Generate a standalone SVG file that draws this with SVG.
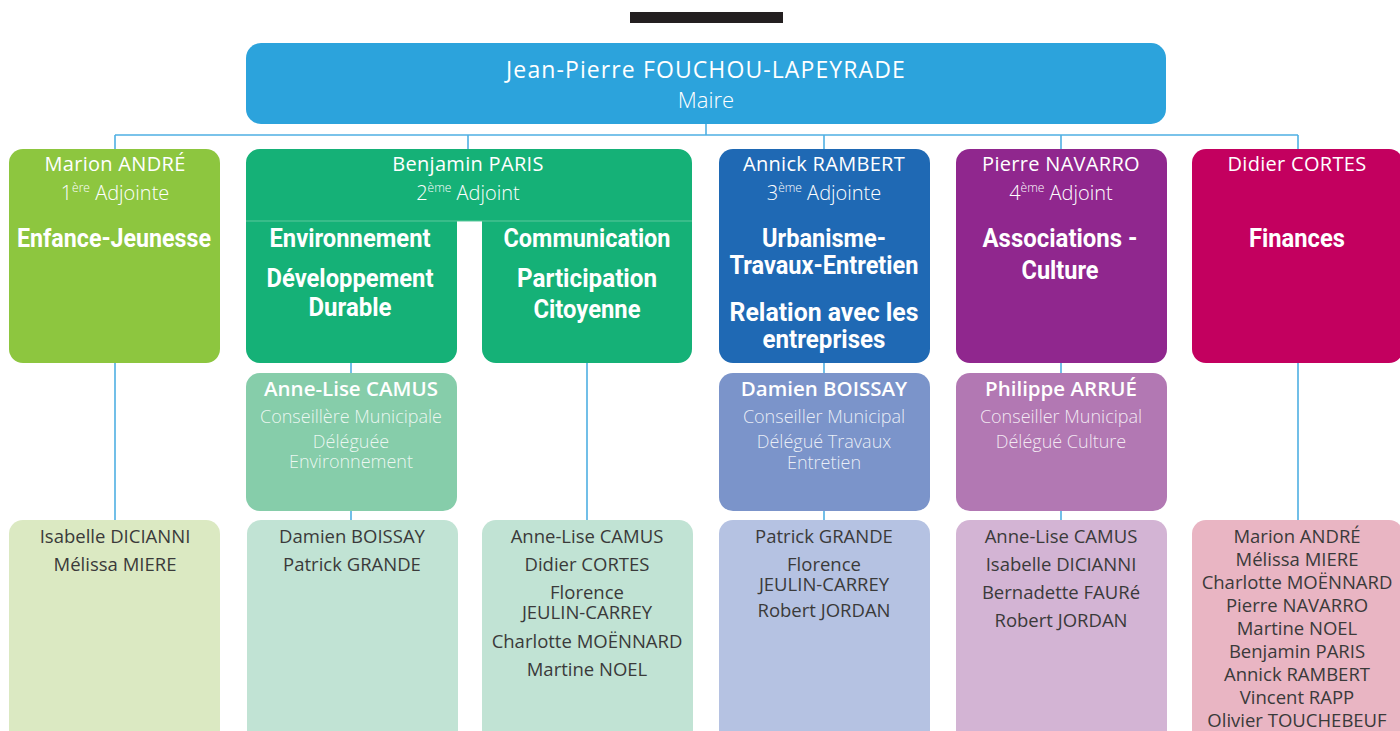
<svg xmlns="http://www.w3.org/2000/svg" width="1400" height="731" viewBox="0 0 1400 731">
<style>
.name{font-family:"Open Sans","Liberation Sans",sans-serif;font-size:20px;fill:#fff;text-anchor:middle;letter-spacing:0.3px}
.role{font-family:"Open Sans","Liberation Sans",sans-serif;font-size:20px;font-weight:300;fill:#fff;text-anchor:middle}
.sup{font-size:12px}
.head{font-family:"Roboto","Liberation Sans",sans-serif;font-size:25px;font-weight:bold;fill:#fff;text-anchor:middle}
.sname{font-family:"Open Sans","Liberation Sans",sans-serif;font-size:20.5px;font-weight:600;fill:#fff;text-anchor:middle}
.srole{font-family:"Open Sans","Liberation Sans",sans-serif;font-size:18px;font-weight:300;fill:#fff;fill-opacity:0.85;text-anchor:middle}
.list{font-family:"Open Sans","Liberation Sans",sans-serif;font-size:18.5px;fill:#3a3a3a;text-anchor:middle}
.conn{stroke:#4fb0e3;stroke-width:1.6;fill:none}
</style>
<rect x="630" y="12" width="153" height="11" fill="#231f20"/>
<g id="connectors" class="conn">
<path d="M706 124 V135 M115 135 H1298 M115 135 V149 M468 135 V149 M824 135 V149 M1061 135 V149 M1298 135 V149"/>
<path d="M115 363 V520 M351 363 V373 M351 511 V520 M587 363 V520 M824 363 V373 M824 511 V520 M1061 363 V373 M1061 511 V520 M1298 363 V520"/>
</g>
<g id="maire">
<rect x="246" y="43" width="920" height="81" rx="15" fill="#2ca3dc"/>
<text x="706" y="78" class="name" style="font-size:23px;letter-spacing:1.1px">Jean-Pierre FOUCHOU-LAPEYRADE</text>
<text x="706" y="108" class="role" style="font-size:22px">Maire</text>
</g>
<g id="andre">
<rect x="9" y="149" width="211" height="214" rx="14" fill="#8dc63f"/>
<text x="115" y="171" class="name">Marion ANDRÉ</text>
<text x="115" y="200" class="role">1<tspan class="sup" dy="-8">ère</tspan><tspan dy="8"> Adjointe</tspan></text>
<text x="114" y="247" class="head" textLength="194" lengthAdjust="spacingAndGlyphs">Enfance-Jeunesse</text>
</g>
<g id="paris">
<path d="M260 149 H678 A14 14 0 0 1 692 163 V349 A14 14 0 0 1 678 363 H496 A14 14 0 0 1 482 349 V221 H457 V349 A14 14 0 0 1 443 363 H260 A14 14 0 0 1 246 349 V163 A14 14 0 0 1 260 149 Z" fill="#15b177"/>
<line x1="246" y1="221" x2="692" y2="221" stroke="#5cc89d" stroke-width="1"/>
<text x="468" y="171" class="name">Benjamin PARIS</text>
<text x="468" y="200" class="role">2<tspan class="sup" dy="-8">ème</tspan><tspan dy="8"> Adjoint</tspan></text>
<text x="350" y="247" class="head" textLength="161" lengthAdjust="spacingAndGlyphs">Environnement</text>
<text x="350" y="287" class="head" textLength="167" lengthAdjust="spacingAndGlyphs">Développement</text>
<text x="350" y="316" class="head" textLength="83" lengthAdjust="spacingAndGlyphs">Durable</text>
<text x="587" y="247" class="head" textLength="167" lengthAdjust="spacingAndGlyphs">Communication</text>
<text x="587" y="287" class="head" textLength="140" lengthAdjust="spacingAndGlyphs">Participation</text>
<text x="587" y="318" class="head" textLength="107" lengthAdjust="spacingAndGlyphs">Citoyenne</text>
</g>
<g id="rambert">
<rect x="719" y="149" width="211" height="214" rx="14" fill="#1f69b4"/>
<text x="824" y="171" class="name">Annick RAMBERT</text>
<text x="824" y="200" class="role">3<tspan class="sup" dy="-8">ème</tspan><tspan dy="8"> Adjointe</tspan></text>
<text x="824" y="247" class="head" textLength="124" lengthAdjust="spacingAndGlyphs">Urbanisme-</text>
<text x="824" y="274" class="head" textLength="189" lengthAdjust="spacingAndGlyphs">Travaux-Entretien</text>
<text x="824" y="321" class="head" textLength="189" lengthAdjust="spacingAndGlyphs">Relation avec les</text>
<text x="824" y="348" class="head" textLength="123" lengthAdjust="spacingAndGlyphs">entreprises</text>
</g>
<g id="navarro">
<rect x="956" y="149" width="211" height="214" rx="14" fill="#90278e"/>
<text x="1061" y="171" class="name">Pierre NAVARRO</text>
<text x="1061" y="200" class="role">4<tspan class="sup" dy="-8">ème</tspan><tspan dy="8"> Adjoint</tspan></text>
<text x="1060" y="247" class="head" textLength="155" lengthAdjust="spacingAndGlyphs">Associations -</text>
<text x="1060" y="279" class="head" textLength="77" lengthAdjust="spacingAndGlyphs">Culture</text>
</g>
<g id="cortes">
<rect x="1192" y="149" width="211" height="214" rx="14" fill="#c3005f"/>
<text x="1297" y="171" class="name">Didier CORTES</text>
<text x="1297" y="247" class="head" textLength="96" lengthAdjust="spacingAndGlyphs">Finances</text>
</g>
<g id="camus">
<rect x="246" y="373" width="211" height="138" rx="14" fill="#86cdaa"/>
<text x="351" y="396" class="sname">Anne-Lise CAMUS</text>
<text x="351" y="423" class="srole">Conseillère Municipale</text>
<text x="351" y="448" class="srole">Déléguée</text>
<text x="351" y="468" class="srole">Environnement</text>
</g>
<g id="boissay">
<rect x="719" y="373" width="211" height="138" rx="14" fill="#7b94ca"/>
<text x="824" y="396" class="sname">Damien BOISSAY</text>
<text x="824" y="423" class="srole">Conseiller Municipal</text>
<text x="824" y="448" class="srole">Délégué Travaux</text>
<text x="824" y="469" class="srole">Entretien</text>
</g>
<g id="arrue">
<rect x="956" y="373" width="211" height="138" rx="14" fill="#b278b3"/>
<text x="1061" y="396" class="sname">Philippe ARRUÉ</text>
<text x="1061" y="423" class="srole">Conseiller Municipal</text>
<text x="1061" y="448" class="srole">Délégué Culture</text>
</g>
<g id="list-andre">
<rect x="9" y="520" width="211" height="240" rx="14" fill="#dbe9c2"/>
<text x="115" y="543" class="list">Isabelle DICIANNI</text>
<text x="115" y="571" class="list">Mélissa MIERE</text>
</g>
<g id="list-env">
<rect x="247" y="520" width="211" height="240" rx="14" fill="#c1e3d4"/>
<text x="352" y="543" class="list">Damien BOISSAY</text>
<text x="352" y="571" class="list">Patrick GRANDE</text>
</g>
<g id="list-com">
<rect x="482" y="520" width="211" height="240" rx="14" fill="#c1e3d4"/>
<text x="587" y="543" class="list">Anne-Lise CAMUS</text>
<text x="587" y="571" class="list">Didier CORTES</text>
<text x="587" y="599" class="list">Florence</text>
<text x="587" y="619" class="list">JEULIN-CARREY</text>
<text x="587" y="648" class="list">Charlotte MOËNNARD</text>
<text x="587" y="676" class="list">Martine NOEL</text>
</g>
<g id="list-rambert">
<rect x="719" y="520" width="211" height="240" rx="14" fill="#b5c2e2"/>
<text x="824" y="543" class="list">Patrick GRANDE</text>
<text x="824" y="571" class="list">Florence</text>
<text x="824" y="591" class="list">JEULIN-CARREY</text>
<text x="824" y="617" class="list">Robert JORDAN</text>
</g>
<g id="list-navarro">
<rect x="956" y="520" width="211" height="240" rx="14" fill="#d3b4d4"/>
<text x="1061" y="543" class="list">Anne-Lise CAMUS</text>
<text x="1061" y="571" class="list">Isabelle DICIANNI</text>
<text x="1061" y="599" class="list">Bernadette FAURé</text>
<text x="1061" y="627" class="list">Robert JORDAN</text>
</g>
<g id="list-cortes">
<rect x="1192" y="520" width="211" height="240" rx="14" fill="#e9b5c3"/>
<text x="1297" y="543" class="list">Marion ANDRÉ</text>
<text x="1297" y="566" class="list">Mélissa MIERE</text>
<text x="1297" y="589" class="list">Charlotte MOËNNARD</text>
<text x="1297" y="612" class="list">Pierre NAVARRO</text>
<text x="1297" y="635" class="list">Martine NOEL</text>
<text x="1297" y="658" class="list">Benjamin PARIS</text>
<text x="1297" y="681" class="list">Annick RAMBERT</text>
<text x="1297" y="704" class="list">Vincent RAPP</text>
<text x="1297" y="727" class="list">Olivier TOUCHEBEUF</text>
</g>
</svg>
